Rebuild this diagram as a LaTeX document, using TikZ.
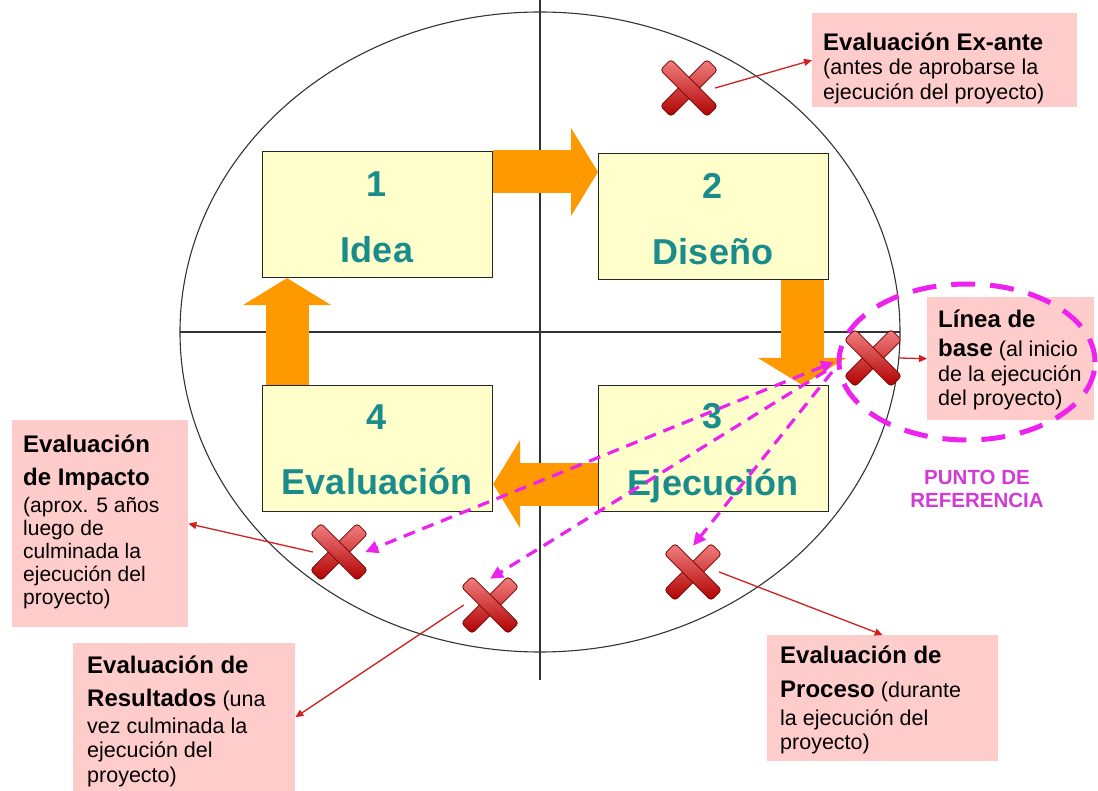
\documentclass[tikz,border=0pt]{standalone}
\usepackage{fontspec}
\setmainfont{Liberation Sans}
\usetikzlibrary{arrows.meta,calc}
\definecolor{boxyellow}{HTML}{FFFFCC}
\definecolor{orng}{HTML}{FF9900}
\definecolor{pinkbg}{HTML}{FFCCCC}
\definecolor{tealtxt}{HTML}{1A8C8C}
\definecolor{magent}{HTML}{EE22EE}
\definecolor{refmag}{HTML}{D23CD2}
\definecolor{redline}{HTML}{D02020}
\definecolor{xlight}{HTML}{F28080}
\definecolor{xdark}{HTML}{B00000}
\definecolor{xedge}{HTML}{7A0000}
\newcommand\bd[1]{{\fontsize{24}{24.5}\selectfont\bfseries #1}}
\newcommand\topstrut{\rule{0pt}{20pt}}
\begin{document}
\begin{tikzpicture}[x=1pt,y=-1pt,
  stage/.style={draw=black!85, line width=1.1pt, fill=boxyellow, minimum width=230pt, minimum height=126pt, anchor=north west, inner sep=0pt},
  stagetxt/.style={text=tealtxt, font=\fontsize{36}{40}\selectfont\bfseries, anchor=base, inner sep=0pt},
  flow/.style={draw=orng, line width=43pt, -{Triangle[length=27pt,width=87pt]}},
  pinkbox/.style={fill=pinkbg, draw=none, anchor=north west, inner sep=0pt},
  lbltxt/.style={anchor=north west, inner sep=0pt, align=left, font=\fontsize{21.5}{24.5}\selectfont},
  xnode/.style={minimum size=52pt, inner sep=0pt, draw=none},
  redarrow/.style={draw=redline, line width=1.3pt, -{Triangle[length=8pt,width=7pt]}},
  dashlink/.style={draw=magent, line width=3.2pt, dash pattern=on 12pt off 8pt},
  mtip/.tip={Triangle[length=13pt,width=12pt]},
  redx/.pic={
    \foreach \ang in {45,-45}{
      \shade[rotate=\ang, draw=xedge, line width=0.8pt, rounded corners=3.5pt,
             top color=xlight, bottom color=xdark] (-33,-7.5) rectangle (33,7.5);
    }
  }
]
\useasboundingbox (0,0) rectangle (1098,791);
\fill[white] (0,0) rectangle (1098,791);

% big ellipse and axes
\draw[black!80, line width=1.1pt] (540,332) ellipse [x radius=360pt, y radius=320pt];
\draw[black!80, line width=1.1pt] (540,0) -- (540,680);
\draw[black!80, line width=1.1pt] (180,332) -- (900,332);

% stages
\node[stage] (b1) at (262,151) {};
\node[stage] (b2) at (598,153) {};
\node[stage] (b3) at (598,385) {};
\node[stage] (b4) at (262,385) {};

\node[stagetxt] (n1) at (377,197) {1};
\node[stagetxt] (t1) at (377,263) {Idea};
\node[stagetxt] (n2) at (713,199) {2};
\node[stagetxt] (t2) at (713,265) {Diseño};
\node[stagetxt] (n3) at (713,429) {3};
\node[stagetxt] (t3) at (713,495) {Ejecución};
\node[stagetxt] (n4) at (377,430) {4};
\node[stagetxt] (t4) at (377,494) {Evaluación};

% flow arrows
\draw[flow] ($(b1.north east)+(0,21)$) -- ($(b2.north west)+(0,19)$);
\draw[flow] ($(b2.south east)+(-27,0)$) -- ($(b3.north east)+(-27,0)$);
\draw[flow] ($(b3.south west)+(0,-28)$) -- ($(b4.south east)+(0,-28)$);
\draw[flow] ($(b4.north west)+(25,0)$) -- ($(b1.south west)+(25,0)$);

% labels
\node[pinkbox, minimum width=265pt, minimum height=94pt] (exante) at (812,13) {};
\node[lbltxt] (exantetxt) at (823,30) {\topstrut\bd{Evaluación Ex-ante}\\(antes de aprobarse la\\ejecución del proyecto)};

\node[pinkbox, minimum width=167pt, minimum height=123pt] (base) at (927,297) {};
\node[lbltxt] (basetxt) at (938,307) {\topstrut\bd{Línea de}\\[5pt]\bd{base} (al inicio\\de la ejecución\\del proyecto)};

\node[pinkbox, minimum width=176pt, minimum height=207pt] (impacto) at (12,420) {};
\node[lbltxt, font=\fontsize{21}{23}\selectfont] (impactotxt) at (23,432) {\topstrut\bd{Evaluación}\\[10pt]\bd{de Impacto}\\[4pt](aprox. 5 años\\luego de\\culminada la\\ejecución del\\proyecto)};

\node[pinkbox, minimum width=222pt, minimum height=148pt] (resultados) at (73,643) {};
\node[lbltxt] (resultadostxt) at (87,653) {\topstrut\bd{Evaluación de}\\[8.5pt]\bd{Resultados} (una\\[2.5pt]vez culminada la\\ejecución del\\proyecto)};

\node[pinkbox, minimum width=231pt, minimum height=126pt] (proceso) at (767,635) {};
\node[lbltxt] (procesotxt) at (780,643) {\topstrut\bd{Evaluación de}\\[9.5pt]\bd{Proceso} (durante\\[3.5pt]la ejecución del\\proyecto)};

% reference point
\draw[magent, line width=5pt, dash pattern=on 24pt off 15pt] (967,362) ellipse [x radius=128pt, y radius=78pt];
\node[font=\fontsize{20.5}{23}\selectfont\bfseries, text=refmag, align=center, inner sep=0pt] (punto) at (977,489) {PUNTO DE\\REFERENCIA};

% X marks
\node[xnode] (x1) at (689,88) {};
\node[xnode] (x2) at (873,358) {};
\node[xnode] (x3) at (339,552) {};
\node[xnode] (x4) at (490,605) {};
\node[xnode] (x5) at (693,572) {};
\foreach \n in {x1,x2,x3,x4,x5} { \pic at (\n) {redx}; }

% red arrows
\draw[redarrow] (x1.east) -- (exante.west);
\draw[redarrow] (x2.east) -- (base.west);
\draw[redarrow] (x3.west) -- (impacto.east);
\draw[redarrow] (x4.west) -- (resultados.east);
\draw[redarrow] (x5.east) -- (proceso.north);

% dashed magenta links
\coordinate (mpA) at (834,362);
\coordinate (mpB) at (826,371);
\coordinate (mpC) at (832,372);
\draw[dashlink, mtip-mtip] (mpA) -- (x3.east);
\draw[dashlink, -mtip] (mpB) -- (x4.north);
\draw[dashlink, -mtip] (mpC) -- (x5.north);
\end{tikzpicture}
\end{document}
